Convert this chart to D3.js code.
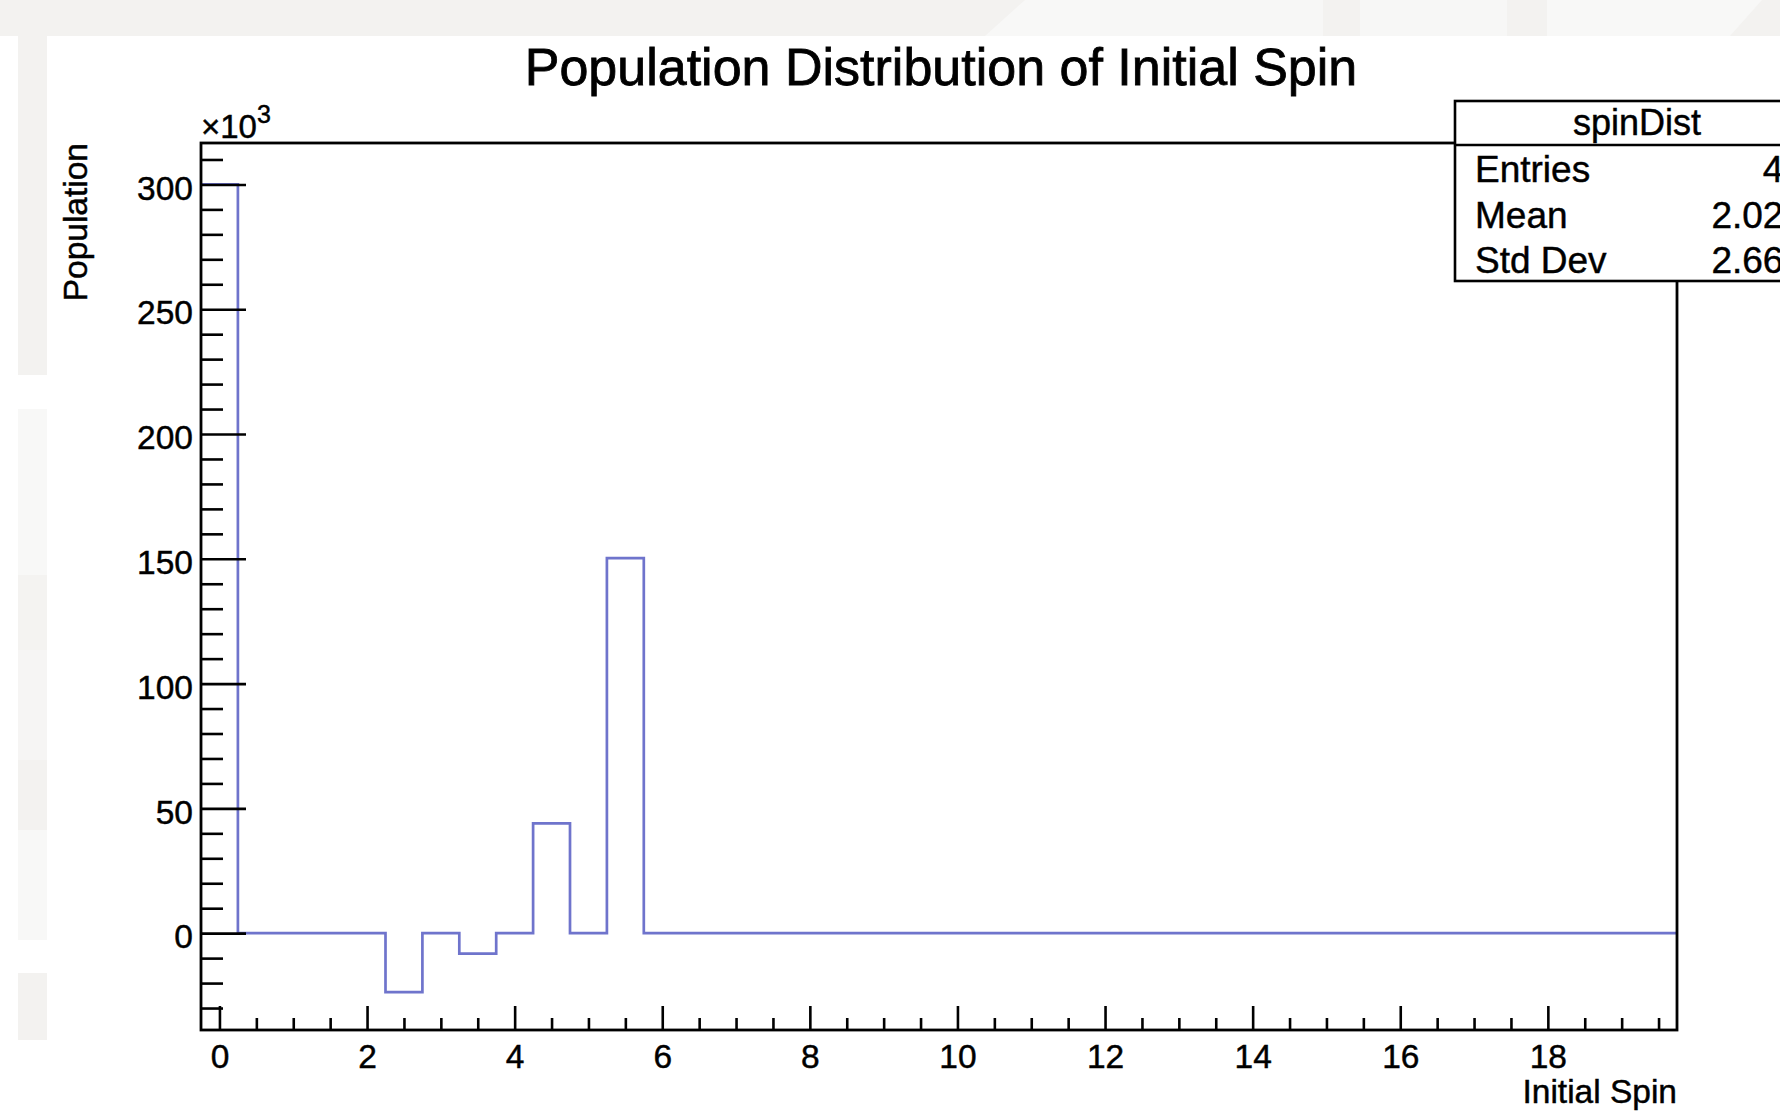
<!DOCTYPE html>
<html>
<head>
<meta charset="utf-8">
<script src="https://cdn.jsdelivr.net/npm/d3@7"></script>
<style>
  body { margin: 0; background: #fff; }
  svg { display: block; font-family: "Liberation Sans", Arial, Helvetica, sans-serif; }
  svg text { fill: #000; stroke: #000; stroke-width: 0.45px; }
  .axis text { font-size: 33.5px; }
  .axis line { stroke: #000; stroke-width: 2.6px; }
  .axis path.domain { display: none; }
</style>
</head>
<body>
<svg id="chart" width="1780" height="1113"></svg>
<script>
// histogram definition, as in TH1F("spinDist", ..., 40, -0.25, 19.75)
const histName = "spinDist";
const nBins = 40;
const xLow = -0.25;
const xHigh = 19.75;

// bin contents, in units of 10^3
const binContents = [
  300, 0, 0, 0, 0, -23.6, 0, -8.2, 0, 44.0,
  0, 150.3, 0, 0, 0, 0, 0, 0, 0, 0,
  0, 0, 0, 0, 0, 0, 0, 0, 0, 0,
  0, 0, 0, 0, 0, 0, 0, 0, 0, 0
];

const xMajorTicks = [0, 2, 4, 6, 8, 10, 12, 14, 16, 18];
const yMajorTicks = [0, 50, 100, 150, 200, 250, 300];

const statLabels = ["Entries", "Mean", "Std Dev"];
const statValues = ["40", "2.024", "2.668"];

const title = "Population Distribution of Initial Spin";
const xTitle = "Initial Spin";
const yTitle = "Population";

const svg = d3.select("#chart");
const W = 1780, H = 1113;

// ---------- window background (screenshot surroundings)
const bg = svg.append("g");
bg.append("rect").attr("x", 0).attr("y", 0).attr("width", W).attr("height", 36).attr("fill", "#f3f2f0");
bg.append("path").attr("d", "M985,36 L1025,0 L1100,0 L1100,36 Z").attr("fill", "#f8f8f7");
bg.append("rect").attr("x", 1100).attr("y", 0).attr("width", 223).attr("height", 36).attr("fill", "#f7f7f6");
bg.append("rect").attr("x", 1360).attr("y", 0).attr("width", 147).attr("height", 36).attr("fill", "#f7f7f6");
bg.append("path").attr("d", "M1547,0 L1762,0 L1730,36 L1547,36 Z").attr("fill", "#f8f8f7");
bg.append("rect").attr("x", 18).attr("y", 36).attr("width", 29).attr("height", 339).attr("fill", "#f3f2f0");
bg.append("rect").attr("x", 18).attr("y", 409).attr("width", 29).attr("height", 166).attr("fill", "#f8f8f7");
bg.append("rect").attr("x", 18).attr("y", 575).attr("width", 29).attr("height", 75).attr("fill", "#f4f3f1");
bg.append("rect").attr("x", 18).attr("y", 650).attr("width", 29).attr("height", 110).attr("fill", "#f6f5f4");
bg.append("rect").attr("x", 18).attr("y", 760).attr("width", 29).attr("height", 70).attr("fill", "#f3f2f0");
bg.append("rect").attr("x", 18).attr("y", 830).attr("width", 29).attr("height", 110).attr("fill", "#f8f8f7");
bg.append("rect").attr("x", 18).attr("y", 973).attr("width", 29).attr("height", 67).attr("fill", "#f3f2f0");

// ---------- frame and scales
const frame = {left: 201, right: 1677, top: 143, bottom: 1030};

const x = d3.scaleLinear().domain([xLow, xHigh]).range([frame.left, frame.right]);
const y = d3.scaleLinear().domain([-38.8, 316.6]).range([frame.bottom, frame.top]);

// ---------- histogram outline
const binW = (xHigh - xLow) / nBins;
const pts = [];
binContents.forEach((v, i) => {
  pts.push([xLow + i * binW, v]);
  pts.push([xLow + (i + 1) * binW, v]);
});
svg.append("clipPath").attr("id", "frameClip")
  .append("rect")
  .attr("x", frame.left).attr("y", frame.top)
  .attr("width", frame.right - frame.left).attr("height", frame.bottom - frame.top);

svg.append("path")
  .datum(pts)
  .attr("clip-path", "url(#frameClip)")
  .attr("fill", "none")
  .attr("stroke", "#6f74cc")
  .attr("stroke-width", 2.7)
  .attr("d", d3.line().x(d => x(d[0])).y(d => y(d[1])));

// ---------- axes (ticks pointing inward, ROOT style)
const xMinor = d3.range(0, xHigh, 0.5).filter(v => xMajorTicks.indexOf(v) === -1);
const yMinor = d3.range(-30, 316, 10).filter(v => yMajorTicks.indexOf(v) === -1);

svg.append("g").attr("class", "axis")
  .attr("transform", `translate(0,${frame.bottom})`)
  .call(d3.axisBottom(x).tickValues(xMinor).tickSize(-12).tickFormat(""));
svg.append("g").attr("class", "axis")
  .attr("transform", `translate(0,${frame.bottom})`)
  .call(d3.axisBottom(x).tickValues(xMajorTicks).tickSize(-24).tickPadding(14).tickFormat(d3.format("d")));

svg.append("g").attr("class", "axis")
  .attr("transform", `translate(${frame.left},0)`)
  .call(d3.axisLeft(y).tickValues(yMinor).tickSize(-22).tickFormat(""));
const yAx = svg.append("g").attr("class", "axis")
  .attr("transform", `translate(${frame.left},0)`)
  .call(d3.axisLeft(y).tickValues(yMajorTicks).tickSize(-45).tickPadding(8).tickFormat(d3.format("d")));
yAx.selectAll("text").attr("dy", "0.44em");

// frame box
svg.append("rect")
  .attr("x", frame.left).attr("y", frame.top)
  .attr("width", frame.right - frame.left).attr("height", frame.bottom - frame.top)
  .attr("fill", "none").attr("stroke", "#000").attr("stroke-width", 2.8);

// ---------- texts
svg.append("text")
  .attr("x", 941).attr("y", 85)
  .attr("text-anchor", "middle")
  .style("font-size", "52px")
  .style("stroke-width", "0.8px")
  .text(title);

svg.append("text")
  .attr("x", frame.right).attr("y", 1103)
  .attr("text-anchor", "end")
  .style("font-size", "33.5px")
  .text(xTitle);

svg.append("text")
  .attr("transform", `translate(87,${frame.top}) rotate(-90)`)
  .attr("text-anchor", "end")
  .style("font-size", "33.5px")
  .text(yTitle);

const mult = svg.append("text")
  .attr("x", frame.left).attr("y", 138)
  .style("font-size", "33px");
mult.append("tspan").text("\u00d710");
mult.append("tspan").attr("dy", -15).style("font-size", "25px").text("3");

// ---------- stats box
const box = {x: 1455, y: 101, w: 364, h: 180, head: 145};
const sb = svg.append("g");
sb.append("rect")
  .attr("x", box.x).attr("y", box.y).attr("width", box.w).attr("height", box.h)
  .attr("fill", "#fff").attr("stroke", "#000").attr("stroke-width", 2.6);
sb.append("line")
  .attr("x1", box.x).attr("x2", box.x + box.w)
  .attr("y1", box.head).attr("y2", box.head)
  .attr("stroke", "#000").attr("stroke-width", 2.6);
sb.append("text")
  .attr("x", box.x + box.w / 2).attr("y", 135)
  .attr("text-anchor", "middle")
  .style("font-size", "36px")
  .text(histName);
const rowY = d3.scaleBand().domain(statLabels).range([box.head, box.y + box.h]);
sb.selectAll("text.lab").data(statLabels).join("text")
  .attr("class", "lab")
  .attr("x", box.x + 20)
  .attr("y", d => rowY(d) + rowY.bandwidth() - 8)
  .style("font-size", "37px")
  .text(d => d);
sb.selectAll("text.val").data(statValues).join("text")
  .attr("class", "val")
  .attr("x", box.x + box.w - 15)
  .attr("y", (d, i) => rowY(statLabels[i]) + rowY.bandwidth() - 8)
  .attr("text-anchor", "end")
  .style("font-size", "37px")
  .text(d => d);
</script>
</body>
</html>
